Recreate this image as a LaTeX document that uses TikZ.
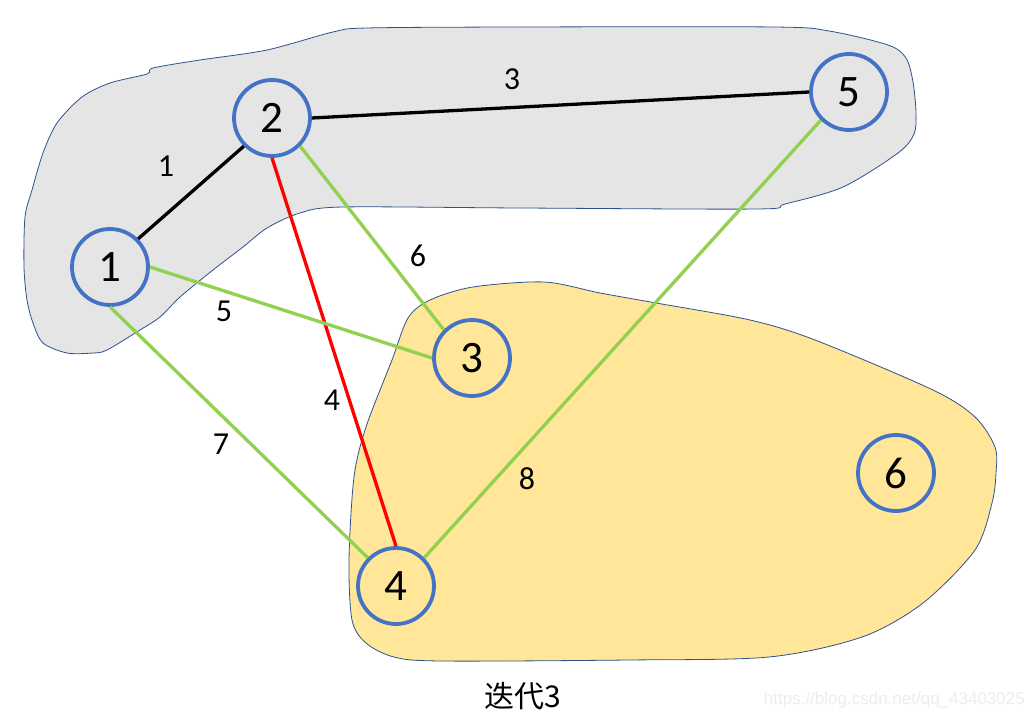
\documentclass[tikz,border=0pt]{standalone}
\usepackage{fontspec}
\setmainfont{Carlito}
\newfontfamily\cjkfont{Noto Sans CJK SC}
\newfontfamily\wmfont{Liberation Sans}
\definecolor{nodeblue}{HTML}{4472C4}
\definecolor{blobline}{HTML}{2F528F}
\definecolor{graybg}{HTML}{E5E5E5}
\definecolor{yellowbg}{HTML}{FFE699}
\definecolor{greenedge}{HTML}{92D050}
\definecolor{rededge}{HTML}{FF0000}
\begin{document}
\begin{tikzpicture}[x=1pt,y=-1pt,
  vert/.style={circle, draw=nodeblue, line width=3.8pt, minimum size=76pt, inner sep=0pt,
    font=\fontsize{45}{45}\selectfont},
  blackedge/.style={draw=black, line width=3.3pt},
  greenE/.style={draw=greenedge, line width=3.3pt},
  redE/.style={draw=rededge, line width=3.3pt},
  wlabel/.style={font=\fontsize{32}{32}\selectfont, inner sep=0pt},
  blob/.style={draw=blobline, line width=0.8pt}]
\useasboundingbox (0,0) rectangle (1035,719);
\fill[white] (0,0) rectangle (1035,719);

% gray region
\path[blob, fill=graybg] plot[smooth cycle, tension=0.5] coordinates {
 (367,28) (520,27) (774,27) (829,31) (888,45) (906,58) (913,82) (916,113) (914,134)
 (898,153) (843,187) (785,204) (757,209) (520,208) (343,207) (300,213) (267,228)
 (243,247) (213,270) (180,297) (160,317) (140,330) (107,350) (93,353) (67,353)
 (43,343) (33,323) (27,300) (24,267) (25,217) (32,190) (43,153) (57,123) (82,97)
 (110,83) (147,74) (153,68) (200,60) (267,50) (333,32)};

% yellow region
\path[blob, fill=yellowbg] plot[smooth cycle, tension=0.5] coordinates {
 (430,300) (473,287) (544,282) (600,293) (656,303) (750,320) (815,340) (933,390)
 (975,417) (995,447) (996,473) (992,503) (975,550) (923,603) (862,637) (769,657)
 (628,660) (441,661) (394,657) (366,643) (352,620) (349,560) (354,477) (366,427)
 (392,360) (408,318)};

% vertices
\node[vert] (n1) at (110,267) {1};
\node[vert] (n2) at (272,118) {2};
\node[vert] (n5) at (849,92) {5};
\node[vert] (n3) at (472,358) {3};
\node[vert] (n4) at (396,586) {4};
\node[vert] (n6) at (896,473) {6};

% edges
\draw[blackedge] (n1.45) -- (n2.225);
\draw[blackedge] (n2.east) -- (n5.west);
\draw[redE] (n2.south) -- (n4.north);
\draw[greenE] (n2.-45) -- (n3.135);
\draw[greenE] (n1.east) -- (n3.west);
\draw[greenE] (n1.south) -- (n4.135);
\draw[greenE] (n5.225) -- (n4.45);

% edge weights
\node[wlabel] (w1) at (166,166) {1};
\node[wlabel] (w3) at (512,79) {3};
\node[wlabel] (w6) at (418,256) {6};
\node[wlabel] (w5) at (224,311) {5};
\node[wlabel] (w4) at (332,400) {4};
\node[wlabel] (w7) at (221,444) {7};
\node[wlabel] (w8) at (527,479) {8};

% caption
\node[font=\cjkfont\fontsize{30}{30}\selectfont, inner sep=0pt] (cap) at (523,696) {迭代3};
\node[font=\wmfont\fontsize{17}{17}\selectfont, text=black!7, inner sep=0pt, anchor=east] (wm) at (1025,700) {https://blog.csdn.net/qq\_43403025};
\end{tikzpicture}
\end{document}
